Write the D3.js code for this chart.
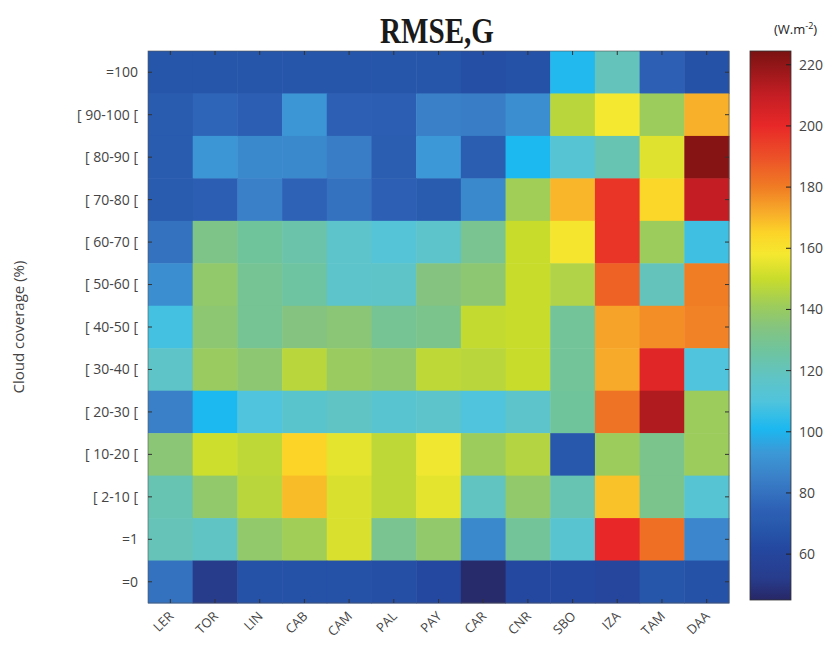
<!DOCTYPE html>
<html>
<head>
<meta charset="utf-8">
<script src="https://cdn.jsdelivr.net/npm/d3@7"></script>
<style>
  body { margin: 0; background: #fff; }
  svg { display: block; }
</style>
</head>
<body>
<div id="chart"></div>
<script>
// stations (columns) and cloud coverage classes (rows, top to bottom)
const STATIONS = ['LER', 'TOR', 'LIN', 'CAB', 'CAM', 'PAL', 'PAY', 'CAR', 'CNR', 'SBO', 'IZA', 'TAM', 'DAA'];
const CLASSES = ['=100', '[ 90-100 [', '[ 80-90 [', '[ 70-80 [', '[ 60-70 [', '[ 50-60 [', '[ 40-50 [',
  '[ 30-40 [', '[ 20-30 [', '[ 10-20 [', '[ 2-10 [', '=1', '=0'];

// RMSE (W.m-2), one array per cloud class, in STATIONS order
const ROW_100 = [68, 68, 68, 68, 68, 68, 68, 65, 66, 102, 120, 74, 66];
const ROW_90_100 = [71, 76, 73, 92, 74, 73, 85, 84, 90, 147, 158, 141, 171];
const ROW_80_90 = [71, 92, 88, 88, 84, 72, 93, 72, 101, 113, 122, 154, 222];
const ROW_70_80 = [71, 73, 85, 75, 80, 74, 71, 88, 142, 170, 197, 164, 210];
const ROW_60_70 = [80, 132, 127, 124, 116, 112, 116, 130, 150, 159, 197, 141, 107];
const ROW_50_60 = [90, 138, 129, 126, 116, 117, 134, 137, 150, 145, 186, 120, 180];
const ROW_40_50 = [108, 137, 129, 134, 136, 129, 131, 149, 150, 128, 173, 177, 179];
const ROW_30_40 = [117, 140, 137, 147, 140, 138, 148, 147, 150, 128, 172, 202, 110];
const ROW_20_30 = [85, 101, 110, 115, 118, 114, 116, 110, 116, 127, 182, 214, 141];
const ROW_10_20 = [136, 151, 148, 165, 155, 148, 157, 141, 146, 69, 141, 131, 141];
const ROW_2_10 = [122, 138, 147, 169, 153, 148, 155, 119, 138, 122, 168, 131, 113];
const ROW_1 = [121, 118, 138, 142, 153, 130, 138, 88, 128, 114, 200, 183, 87];
const ROW_0 = [80, 52, 66, 66, 66, 65, 62, 46, 62, 62, 60, 68, 66];

const ROWS = [ROW_100, ROW_90_100, ROW_80_90, ROW_70_80, ROW_60_70, ROW_50_60, ROW_40_50,
  ROW_30_40, ROW_20_30, ROW_10_20, ROW_2_10, ROW_1, ROW_0];

const CBAR_TICKS = [60, 80, 100, 120, 140, 160, 180, 200, 220];
const CBAR_DOMAIN = [45, 224.5];

// colormap stops
const CMAP_VALUES = [45, 52, 62, 68, 75, 85, 93, 101, 110, 118, 127, 134, 141, 150, 158, 165, 171, 180, 190, 200, 210, 224.5];
const CMAP_COLORS = ['#272766', '#283c8c', '#2448a0', '#2656aa', '#2e62b6', '#3a80c8', '#3c98d6', '#1cb8f0',
  '#50c4dc', '#60c4c4', '#70c49c', '#84c480', '#9ccc5c', '#c8dc2c', '#f5e830', '#fcd428', '#f8b02a',
  '#f07c24', '#ec5028', '#e82828', '#c41e24', '#7a1212'];

const W = 837;
const H = 646;
const PLOT = { left: 148, right: 729, top: 51, bottom: 603 };
const CBAR = { left: 750, right: 791, top: 51, bottom: 600 };
const TEXT_COLOR = '#444';
const FONT = '"Open Sans", "Noto Sans", sans-serif';

const svg = d3.select('#chart').append('svg')
  .attr('width', W)
  .attr('height', H);

const x = d3.scaleBand().domain(STATIONS).range([PLOT.left, PLOT.right]);
const y = d3.scaleBand().domain(CLASSES).range([PLOT.top, PLOT.bottom]);

const color = d3.scaleLinear()
  .domain(CMAP_VALUES)
  .range(CMAP_COLORS)
  .interpolate(d3.interpolateRgb)
  .clamp(true);

const cells = [];
ROWS.forEach((row, ri) => {
  row.forEach((v, ci) => cells.push({ cls: CLASSES[ri], st: STATIONS[ci], value: v }));
});

svg.append('g')
  .selectAll('rect')
  .data(cells)
  .join('rect')
  .attr('x', (d) => x(d.st))
  .attr('y', (d) => y(d.cls))
  .attr('width', x.bandwidth() + 0.5)
  .attr('height', y.bandwidth() + 0.5)
  .attr('fill', (d) => color(d.value));

// frame + inner ticks
svg.append('rect')
  .attr('x', PLOT.left)
  .attr('y', PLOT.top)
  .attr('width', PLOT.right - PLOT.left)
  .attr('height', PLOT.bottom - PLOT.top)
  .attr('fill', 'none')
  .attr('stroke', '#555')
  .attr('stroke-width', 0.6);

const tickG = svg.append('g').attr('stroke', '#333').attr('stroke-width', 1);
STATIONS.forEach((s) => {
  const cx = x(s) + x.bandwidth() / 2;
  tickG.append('line').attr('x1', cx).attr('x2', cx).attr('y1', PLOT.top).attr('y2', PLOT.top + 4);
  tickG.append('line').attr('x1', cx).attr('x2', cx).attr('y1', PLOT.bottom).attr('y2', PLOT.bottom - 4);
});
CLASSES.forEach((c) => {
  const cy = y(c) + y.bandwidth() / 2;
  tickG.append('line').attr('x1', PLOT.left).attr('x2', PLOT.left + 4).attr('y1', cy).attr('y2', cy);
  tickG.append('line').attr('x1', PLOT.right).attr('x2', PLOT.right - 4).attr('y1', cy).attr('y2', cy);
});

// row labels
svg.append('g')
  .selectAll('text')
  .data(CLASSES)
  .join('text')
  .attr('x', PLOT.left - 10)
  .attr('y', (d) => y(d) + y.bandwidth() / 2)
  .attr('dy', '0.35em')
  .attr('text-anchor', 'end')
  .attr('font-family', FONT)
  .attr('font-size', '14px')
  .attr('fill', TEXT_COLOR)
  .text((d) => d);

// column labels, rotated
svg.append('g')
  .selectAll('text')
  .data(STATIONS)
  .join('text')
  .attr('transform', (d) => `translate(${x(d) + x.bandwidth() / 2 + 4},${PLOT.bottom + 14}) rotate(-45)`)
  .attr('text-anchor', 'end')
  .attr('font-family', FONT)
  .attr('font-size', '13px')
  .attr('fill', TEXT_COLOR)
  .text((d) => d);

svg.append('text')
  .attr('transform', `translate(24,${(PLOT.top + PLOT.bottom) / 2}) rotate(-90)`)
  .attr('text-anchor', 'middle')
  .attr('font-family', FONT)
  .attr('font-size', '15px')
  .attr('fill', TEXT_COLOR)
  .text('Cloud coverage (%)');

svg.append('text')
  .attr('x', 380)
  .attr('y', 43)
  .attr('font-family', '"Liberation Serif", serif')
  .attr('font-weight', 600)
  .attr('font-size', '36px')
  .attr('fill', '#1a1a1a')
  .attr('textLength', 114)
  .attr('lengthAdjust', 'spacingAndGlyphs')
  .text('RMSE,G');

// colour bar
const cy = d3.scaleLinear().domain(CBAR_DOMAIN).range([CBAR.bottom, CBAR.top]);
const defs = svg.append('defs');
const grad = defs.append('linearGradient')
  .attr('id', 'cbar-grad')
  .attr('x1', 0).attr('y1', 1).attr('x2', 0).attr('y2', 0);
CMAP_VALUES.forEach((v, i) => {
  grad.append('stop')
    .attr('offset', (v - CBAR_DOMAIN[0]) / (CBAR_DOMAIN[1] - CBAR_DOMAIN[0]))
    .attr('stop-color', CMAP_COLORS[i]);
});

svg.append('rect')
  .attr('x', CBAR.left)
  .attr('y', CBAR.top)
  .attr('width', CBAR.right - CBAR.left)
  .attr('height', CBAR.bottom - CBAR.top)
  .attr('fill', 'url(#cbar-grad)')
  .attr('stroke', '#333')
  .attr('stroke-width', 0.8);

const cbarAxis = svg.append('g');
CBAR_TICKS.forEach((t) => {
  cbarAxis.append('line')
    .attr('x1', CBAR.right - 5).attr('x2', CBAR.right)
    .attr('y1', cy(t)).attr('y2', cy(t))
    .attr('stroke', '#222').attr('stroke-width', 1);
  cbarAxis.append('text')
    .attr('x', CBAR.right + 8)
    .attr('y', cy(t))
    .attr('dy', '0.35em')
    .attr('font-family', FONT)
    .attr('font-size', '14px')
    .attr('fill', TEXT_COLOR)
    .text(t);
});

const unit = svg.append('text')
  .attr('x', 774)
  .attr('y', 34)
  .attr('font-family', FONT)
  .attr('font-size', '13px')
  .attr('fill', '#222');
unit.append('tspan').text('(W.m');
unit.append('tspan').attr('dy', -5).attr('font-size', '9px').text('-2');
unit.append('tspan').attr('dy', 5).text(')');
</script>
</body>
</html>
